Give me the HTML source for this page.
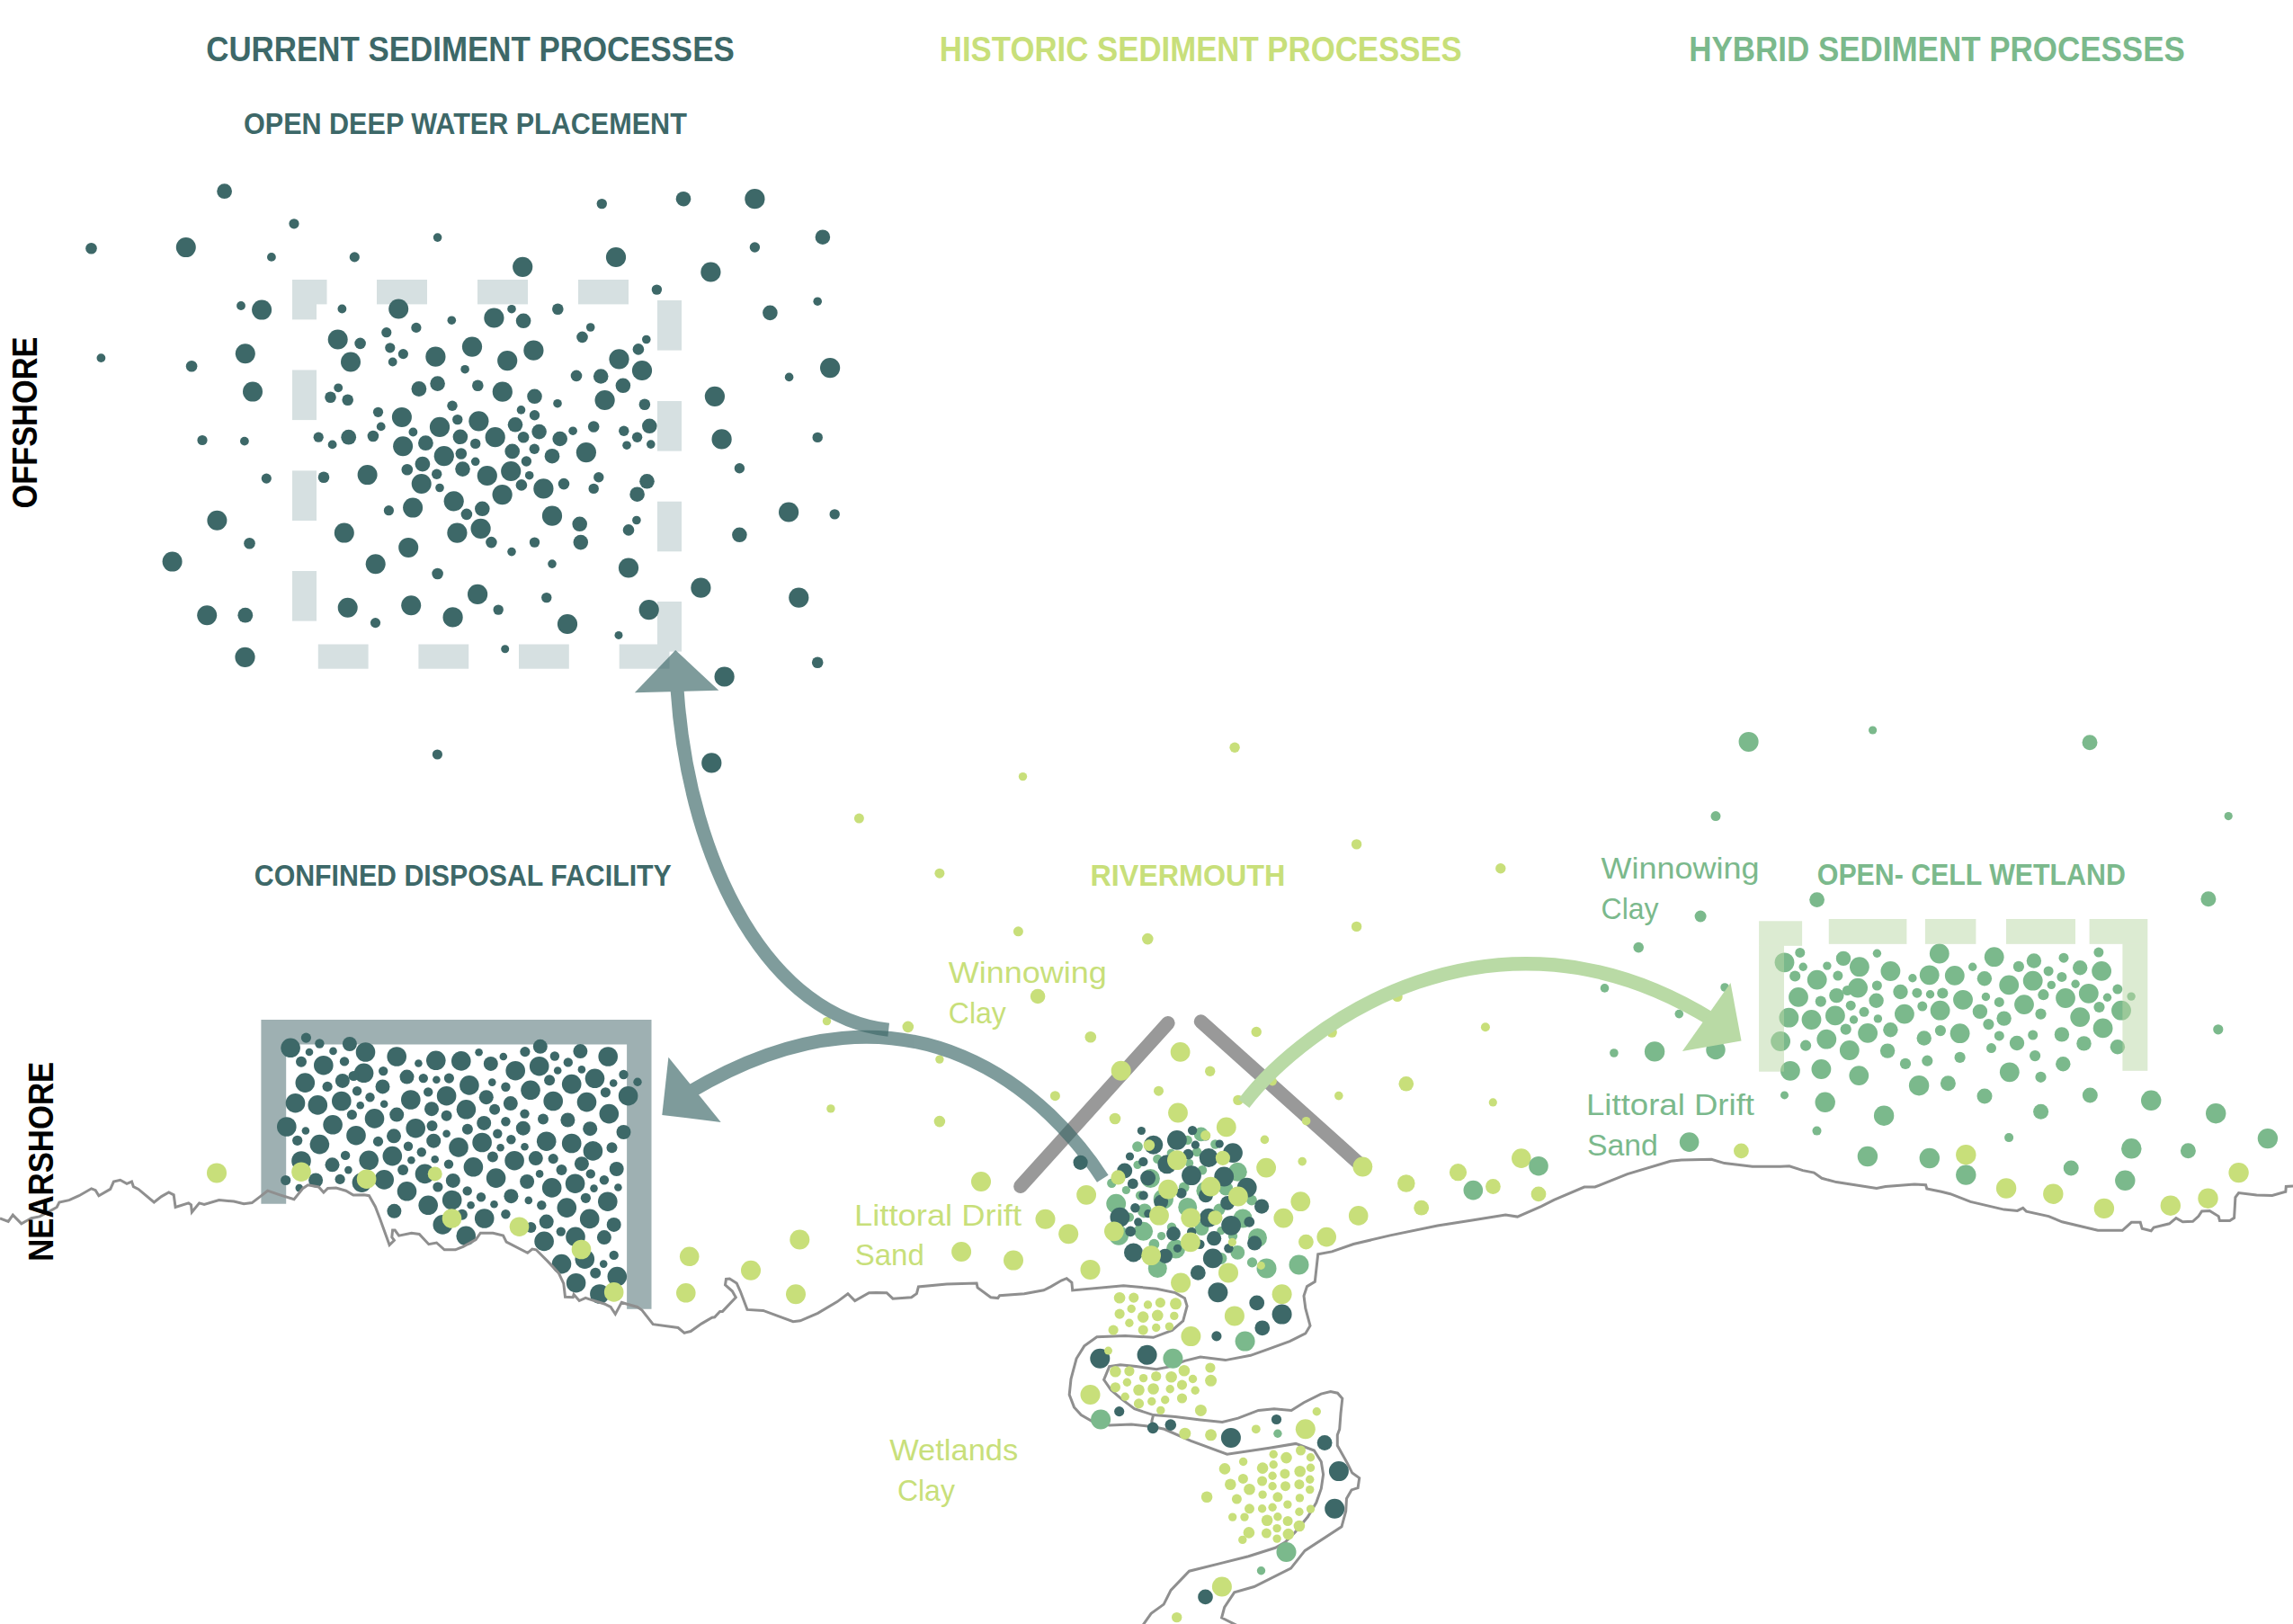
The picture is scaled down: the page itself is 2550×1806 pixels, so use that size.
<!DOCTYPE html><html><head><meta charset="utf-8"><style>html,body{margin:0;padding:0;background:#fff;overflow:hidden}svg{display:block}</style></head><body><svg width="2550" height="1806" viewBox="0 0 2550 1806"><rect width="2550" height="1806" fill="#fff"/><rect x="325" y="311" width="38.5" height="27.4" fill="#d6e0e1"/><rect x="419" y="311" width="56" height="27.4" fill="#d6e0e1"/><rect x="531" y="311" width="56" height="27.4" fill="#d6e0e1"/><rect x="643" y="311" width="56" height="27.4" fill="#d6e0e1"/><rect x="325" y="311" width="27" height="44.4" fill="#d6e0e1"/><rect x="325" y="411.5" width="27" height="55.6" fill="#d6e0e1"/><rect x="325" y="523.4" width="27" height="55.6" fill="#d6e0e1"/><rect x="325" y="635" width="27" height="55.6" fill="#d6e0e1"/><rect x="731" y="334" width="27" height="55.6" fill="#d6e0e1"/><rect x="731" y="446" width="27" height="55.6" fill="#d6e0e1"/><rect x="731" y="557.7" width="27" height="55.6" fill="#d6e0e1"/><rect x="731" y="669" width="27" height="55.6" fill="#d6e0e1"/><rect x="353.8" y="716.5" width="55.8" height="27.2" fill="#d6e0e1"/><rect x="465.4" y="716.5" width="55.8" height="27.2" fill="#d6e0e1"/><rect x="577" y="716.5" width="55.8" height="27.2" fill="#d6e0e1"/><rect x="688.7" y="716.5" width="55.8" height="27.2" fill="#d6e0e1"/><circle cx="249.6" cy="212.7" r="8.4" fill="#3d6868"/><circle cx="327.0" cy="248.8" r="5.6" fill="#3d6868"/><circle cx="101.5" cy="276.3" r="6.3" fill="#3d6868"/><circle cx="206.8" cy="275.1" r="11.0" fill="#3d6868"/><circle cx="301.9" cy="285.9" r="4.9" fill="#3d6868"/><circle cx="394.3" cy="285.9" r="5.6" fill="#3d6868"/><circle cx="268.0" cy="340.0" r="4.9" fill="#3d6868"/><circle cx="291.1" cy="344.6" r="11.0" fill="#3d6868"/><circle cx="380.4" cy="343.5" r="4.9" fill="#3d6868"/><circle cx="443.2" cy="343.5" r="11.0" fill="#3d6868"/><circle cx="375.7" cy="377.5" r="11.0" fill="#3d6868"/><circle cx="400.6" cy="381.9" r="6.3" fill="#3d6868"/><circle cx="429.8" cy="369.7" r="5.6" fill="#3d6868"/><circle cx="462.9" cy="364.4" r="5.6" fill="#3d6868"/><circle cx="433.8" cy="386.8" r="5.6" fill="#3d6868"/><circle cx="448.4" cy="393.6" r="5.6" fill="#3d6868"/><circle cx="436.7" cy="402.5" r="4.9" fill="#3d6868"/><circle cx="390.0" cy="402.5" r="11.0" fill="#3d6868"/><circle cx="272.8" cy="393.2" r="11.0" fill="#3d6868"/><circle cx="112.4" cy="398.1" r="4.9" fill="#3d6868"/><circle cx="213.1" cy="407.2" r="6.3" fill="#3d6868"/><circle cx="281.0" cy="435.6" r="11.0" fill="#3d6868"/><circle cx="376.2" cy="431.3" r="4.9" fill="#3d6868"/><circle cx="367.5" cy="441.7" r="6.3" fill="#3d6868"/><circle cx="386.7" cy="444.7" r="6.3" fill="#3d6868"/><circle cx="465.9" cy="432.5" r="8.4" fill="#3d6868"/><circle cx="669.3" cy="226.6" r="5.7" fill="#3d6868"/><circle cx="760.0" cy="221.2" r="8.3" fill="#3d6868"/><circle cx="839.4" cy="221.2" r="11.1" fill="#3d6868"/><circle cx="486.6" cy="264.1" r="4.8" fill="#3d6868"/><circle cx="914.9" cy="263.7" r="8.3" fill="#3d6868"/><circle cx="839.4" cy="275.0" r="5.7" fill="#3d6868"/><circle cx="581.2" cy="296.8" r="11.1" fill="#3d6868"/><circle cx="685.0" cy="286.0" r="11.1" fill="#3d6868"/><circle cx="790.4" cy="302.5" r="11.1" fill="#3d6868"/><circle cx="730.4" cy="322.1" r="5.7" fill="#3d6868"/><circle cx="909.2" cy="335.2" r="4.8" fill="#3d6868"/><circle cx="856.4" cy="347.9" r="8.3" fill="#3d6868"/><circle cx="569.0" cy="343.7" r="4.8" fill="#3d6868"/><circle cx="620.3" cy="343.7" r="6.3" fill="#3d6868"/><circle cx="549.4" cy="353.5" r="11.1" fill="#3d6868"/><circle cx="582.1" cy="356.8" r="8.3" fill="#3d6868"/><circle cx="502.3" cy="356.2" r="4.8" fill="#3d6868"/><circle cx="656.7" cy="364.0" r="4.8" fill="#3d6868"/><circle cx="647.5" cy="374.9" r="6.3" fill="#3d6868"/><circle cx="718.8" cy="377.5" r="4.8" fill="#3d6868"/><circle cx="709.9" cy="388.4" r="6.3" fill="#3d6868"/><circle cx="484.4" cy="396.7" r="11.1" fill="#3d6868"/><circle cx="525.0" cy="385.6" r="11.1" fill="#3d6868"/><circle cx="564.2" cy="401.1" r="11.1" fill="#3d6868"/><circle cx="593.4" cy="389.7" r="11.1" fill="#3d6868"/><circle cx="517.1" cy="410.7" r="4.8" fill="#3d6868"/><circle cx="688.5" cy="399.3" r="11.1" fill="#3d6868"/><circle cx="714.0" cy="412.0" r="11.1" fill="#3d6868"/><circle cx="641.0" cy="417.9" r="6.3" fill="#3d6868"/><circle cx="668.2" cy="418.5" r="8.3" fill="#3d6868"/><circle cx="692.9" cy="428.8" r="8.3" fill="#3d6868"/><circle cx="486.6" cy="426.6" r="8.3" fill="#3d6868"/><circle cx="531.3" cy="428.8" r="6.3" fill="#3d6868"/><circle cx="558.8" cy="435.7" r="11.1" fill="#3d6868"/><circle cx="594.5" cy="440.8" r="8.3" fill="#3d6868"/><circle cx="877.6" cy="419.4" r="4.8" fill="#3d6868"/><circle cx="923.1" cy="409.1" r="11.1" fill="#3d6868"/><circle cx="794.9" cy="440.8" r="11.1" fill="#3d6868"/><circle cx="420.5" cy="458.3" r="5.6" fill="#3d6868"/><circle cx="446.9" cy="463.9" r="11.0" fill="#3d6868"/><circle cx="423.7" cy="474.4" r="4.9" fill="#3d6868"/><circle cx="459.4" cy="480.5" r="4.9" fill="#3d6868"/><circle cx="225.0" cy="489.5" r="5.6" fill="#3d6868"/><circle cx="271.9" cy="490.6" r="4.9" fill="#3d6868"/><circle cx="354.2" cy="486.2" r="5.6" fill="#3d6868"/><circle cx="369.6" cy="494.4" r="4.9" fill="#3d6868"/><circle cx="387.7" cy="486.2" r="8.4" fill="#3d6868"/><circle cx="414.9" cy="485.0" r="6.3" fill="#3d6868"/><circle cx="448.1" cy="496.2" r="11.0" fill="#3d6868"/><circle cx="473.4" cy="492.7" r="8.4" fill="#3d6868"/><circle cx="469.9" cy="516.1" r="8.4" fill="#3d6868"/><circle cx="452.8" cy="522.3" r="6.3" fill="#3d6868"/><circle cx="296.3" cy="532.1" r="5.6" fill="#3d6868"/><circle cx="360.0" cy="530.7" r="6.3" fill="#3d6868"/><circle cx="408.6" cy="528.1" r="11.0" fill="#3d6868"/><circle cx="468.7" cy="538.0" r="11.0" fill="#3d6868"/><circle cx="432.4" cy="567.7" r="5.6" fill="#3d6868"/><circle cx="459.1" cy="564.6" r="11.0" fill="#3d6868"/><circle cx="241.4" cy="578.7" r="11.0" fill="#3d6868"/><circle cx="382.8" cy="592.6" r="11.0" fill="#3d6868"/><circle cx="277.5" cy="604.3" r="6.3" fill="#3d6868"/><circle cx="454.2" cy="608.9" r="11.0" fill="#3d6868"/><circle cx="191.6" cy="624.6" r="11.0" fill="#3d6868"/><circle cx="417.7" cy="627.2" r="11.0" fill="#3d6868"/><circle cx="230.2" cy="684.2" r="11.0" fill="#3d6868"/><circle cx="272.8" cy="684.2" r="8.4" fill="#3d6868"/><circle cx="386.7" cy="675.8" r="11.0" fill="#3d6868"/><circle cx="457.2" cy="673.2" r="11.0" fill="#3d6868"/><circle cx="417.5" cy="692.6" r="5.6" fill="#3d6868"/><circle cx="503.0" cy="451.3" r="5.7" fill="#3d6868"/><circle cx="620.0" cy="448.7" r="4.8" fill="#3d6868"/><circle cx="716.9" cy="449.8" r="6.3" fill="#3d6868"/><circle cx="508.8" cy="466.6" r="5.7" fill="#3d6868"/><circle cx="489.0" cy="474.9" r="11.1" fill="#3d6868"/><circle cx="532.4" cy="468.3" r="11.1" fill="#3d6868"/><circle cx="579.5" cy="455.9" r="4.8" fill="#3d6868"/><circle cx="594.5" cy="461.8" r="5.7" fill="#3d6868"/><circle cx="573.0" cy="472.3" r="8.3" fill="#3d6868"/><circle cx="511.9" cy="485.8" r="8.3" fill="#3d6868"/><circle cx="528.7" cy="493.4" r="5.7" fill="#3d6868"/><circle cx="550.7" cy="486.2" r="11.1" fill="#3d6868"/><circle cx="582.1" cy="486.2" r="6.3" fill="#3d6868"/><circle cx="599.6" cy="480.1" r="8.3" fill="#3d6868"/><circle cx="622.7" cy="488.0" r="8.3" fill="#3d6868"/><circle cx="637.1" cy="479.2" r="4.8" fill="#3d6868"/><circle cx="660.2" cy="474.5" r="6.3" fill="#3d6868"/><circle cx="693.8" cy="479.2" r="5.7" fill="#3d6868"/><circle cx="708.6" cy="486.2" r="5.7" fill="#3d6868"/><circle cx="722.3" cy="473.8" r="8.3" fill="#3d6868"/><circle cx="697.0" cy="495.2" r="4.8" fill="#3d6868"/><circle cx="723.8" cy="494.1" r="4.8" fill="#3d6868"/><circle cx="802.6" cy="488.4" r="11.1" fill="#3d6868"/><circle cx="909.2" cy="486.4" r="5.7" fill="#3d6868"/><circle cx="493.8" cy="507.2" r="11.1" fill="#3d6868"/><circle cx="512.8" cy="504.5" r="6.3" fill="#3d6868"/><circle cx="528.7" cy="513.3" r="4.8" fill="#3d6868"/><circle cx="569.7" cy="501.9" r="8.3" fill="#3d6868"/><circle cx="594.3" cy="499.3" r="5.7" fill="#3d6868"/><circle cx="614.0" cy="507.2" r="8.3" fill="#3d6868"/><circle cx="651.9" cy="503.2" r="11.1" fill="#3d6868"/><circle cx="585.4" cy="513.0" r="5.7" fill="#3d6868"/><circle cx="514.5" cy="521.6" r="8.3" fill="#3d6868"/><circle cx="485.7" cy="527.2" r="5.7" fill="#3d6868"/><circle cx="541.8" cy="529.0" r="11.1" fill="#3d6868"/><circle cx="568.2" cy="524.0" r="11.1" fill="#3d6868"/><circle cx="588.7" cy="528.7" r="4.8" fill="#3d6868"/><circle cx="579.9" cy="539.4" r="6.3" fill="#3d6868"/><circle cx="604.4" cy="543.4" r="11.1" fill="#3d6868"/><circle cx="627.0" cy="538.1" r="6.3" fill="#3d6868"/><circle cx="665.8" cy="530.7" r="5.7" fill="#3d6868"/><circle cx="660.2" cy="543.4" r="5.7" fill="#3d6868"/><circle cx="719.5" cy="535.3" r="8.3" fill="#3d6868"/><circle cx="708.6" cy="549.7" r="8.3" fill="#3d6868"/><circle cx="822.4" cy="520.7" r="5.7" fill="#3d6868"/><circle cx="489.0" cy="542.5" r="4.8" fill="#3d6868"/><circle cx="504.7" cy="557.3" r="11.1" fill="#3d6868"/><circle cx="558.6" cy="550.1" r="11.1" fill="#3d6868"/><circle cx="536.3" cy="565.8" r="8.3" fill="#3d6868"/><circle cx="518.9" cy="571.9" r="6.3" fill="#3d6868"/><circle cx="614.0" cy="573.7" r="11.1" fill="#3d6868"/><circle cx="644.7" cy="582.8" r="8.3" fill="#3d6868"/><circle cx="707.9" cy="578.5" r="4.8" fill="#3d6868"/><circle cx="699.0" cy="589.4" r="6.3" fill="#3d6868"/><circle cx="877.1" cy="569.5" r="11.1" fill="#3d6868"/><circle cx="928.2" cy="571.9" r="5.7" fill="#3d6868"/><circle cx="508.4" cy="592.6" r="11.1" fill="#3d6868"/><circle cx="534.6" cy="587.8" r="11.1" fill="#3d6868"/><circle cx="546.4" cy="603.1" r="6.3" fill="#3d6868"/><circle cx="594.5" cy="603.1" r="5.7" fill="#3d6868"/><circle cx="645.8" cy="603.1" r="8.3" fill="#3d6868"/><circle cx="822.4" cy="594.8" r="8.3" fill="#3d6868"/><circle cx="569.0" cy="613.6" r="4.8" fill="#3d6868"/><circle cx="614.0" cy="627.1" r="4.8" fill="#3d6868"/><circle cx="699.0" cy="631.5" r="11.1" fill="#3d6868"/><circle cx="486.6" cy="638.0" r="6.3" fill="#3d6868"/><circle cx="531.1" cy="660.9" r="11.1" fill="#3d6868"/><circle cx="607.8" cy="664.6" r="5.7" fill="#3d6868"/><circle cx="779.4" cy="653.7" r="11.1" fill="#3d6868"/><circle cx="888.3" cy="664.6" r="11.1" fill="#3d6868"/><circle cx="554.2" cy="678.1" r="5.7" fill="#3d6868"/><circle cx="503.6" cy="686.4" r="11.1" fill="#3d6868"/><circle cx="721.7" cy="678.1" r="11.1" fill="#3d6868"/><circle cx="631.0" cy="694.0" r="11.1" fill="#3d6868"/><circle cx="272.5" cy="730.8" r="11.1" fill="#3d6868"/><circle cx="688.0" cy="706.4" r="4.5" fill="#3d6868"/><circle cx="561.7" cy="721.8" r="4.5" fill="#3d6868"/><circle cx="805.6" cy="752.5" r="11.1" fill="#3d6868"/><circle cx="909.2" cy="736.8" r="6.3" fill="#3d6868"/><circle cx="486.4" cy="839.0" r="5.6" fill="#3d6868"/><circle cx="791.3" cy="848.4" r="11.1" fill="#3d6868"/><circle cx="672.6" cy="445.0" r="11.1" fill="#3d6868"/><path d="M290.4 1338.8 V1134 H724.5 V1455.8 H697.1 V1161.4 H318.2 V1338.8 Z" fill="#9eb0b2"/><circle cx="323.1" cy="1165.3" r="10.8" fill="#3d6868"/><circle cx="340.4" cy="1154.1" r="5.6" fill="#3d6868"/><circle cx="355.4" cy="1160.5" r="5.2" fill="#3d6868"/><circle cx="344.0" cy="1170.0" r="4.3" fill="#3d6868"/><circle cx="335.0" cy="1180.8" r="6.0" fill="#3d6868"/><circle cx="370.5" cy="1168.9" r="4.3" fill="#3d6868"/><circle cx="388.9" cy="1161.0" r="8.0" fill="#3d6868"/><circle cx="406.5" cy="1170.0" r="10.8" fill="#3d6868"/><circle cx="383.0" cy="1180.4" r="5.2" fill="#3d6868"/><circle cx="359.8" cy="1184.7" r="10.8" fill="#3d6868"/><circle cx="441.2" cy="1175.0" r="10.8" fill="#3d6868"/><circle cx="465.4" cy="1182.5" r="4.3" fill="#3d6868"/><circle cx="484.8" cy="1179.3" r="10.8" fill="#3d6868"/><circle cx="512.8" cy="1179.9" r="10.8" fill="#3d6868"/><circle cx="532.6" cy="1170.2" r="4.3" fill="#3d6868"/><circle cx="545.8" cy="1182.9" r="8.0" fill="#3d6868"/><circle cx="559.8" cy="1175.0" r="4.3" fill="#3d6868"/><circle cx="573.2" cy="1190.7" r="10.8" fill="#3d6868"/><circle cx="583.9" cy="1169.6" r="5.6" fill="#3d6868"/><circle cx="600.8" cy="1163.8" r="8.0" fill="#3d6868"/><circle cx="599.7" cy="1185.7" r="10.8" fill="#3d6868"/><circle cx="616.9" cy="1174.5" r="5.2" fill="#3d6868"/><circle cx="631.8" cy="1181.4" r="5.2" fill="#3d6868"/><circle cx="645.4" cy="1169.1" r="8.0" fill="#3d6868"/><circle cx="676.2" cy="1175.0" r="10.8" fill="#3d6868"/><circle cx="620.2" cy="1190.5" r="4.3" fill="#3d6868"/><circle cx="646.9" cy="1189.4" r="4.3" fill="#3d6868"/><circle cx="661.5" cy="1199.3" r="10.8" fill="#3d6868"/><circle cx="693.5" cy="1195.0" r="5.2" fill="#3d6868"/><circle cx="709.0" cy="1203.2" r="4.7" fill="#3d6868"/><circle cx="682.2" cy="1204.5" r="4.3" fill="#3d6868"/><circle cx="698.6" cy="1218.7" r="10.8" fill="#3d6868"/><circle cx="635.7" cy="1205.6" r="10.8" fill="#3d6868"/><circle cx="611.1" cy="1201.3" r="6.0" fill="#3d6868"/><circle cx="590.0" cy="1212.3" r="10.8" fill="#3d6868"/><circle cx="562.4" cy="1208.8" r="5.2" fill="#3d6868"/><circle cx="547.3" cy="1203.6" r="4.3" fill="#3d6868"/><circle cx="521.9" cy="1206.9" r="10.8" fill="#3d6868"/><circle cx="499.4" cy="1199.1" r="5.6" fill="#3d6868"/><circle cx="485.4" cy="1200.8" r="4.3" fill="#3d6868"/><circle cx="470.8" cy="1199.1" r="5.2" fill="#3d6868"/><circle cx="452.5" cy="1197.6" r="8.0" fill="#3d6868"/><circle cx="426.2" cy="1191.1" r="5.2" fill="#3d6868"/><circle cx="404.6" cy="1193.3" r="10.8" fill="#3d6868"/><circle cx="393.2" cy="1196.5" r="5.6" fill="#3d6868"/><circle cx="380.9" cy="1201.9" r="8.0" fill="#3d6868"/><circle cx="364.1" cy="1208.4" r="5.6" fill="#3d6868"/><circle cx="339.3" cy="1204.1" r="10.8" fill="#3d6868"/><circle cx="425.5" cy="1208.4" r="8.0" fill="#3d6868"/><circle cx="397.1" cy="1213.3" r="5.2" fill="#3d6868"/><circle cx="411.5" cy="1220.2" r="5.2" fill="#3d6868"/><circle cx="379.8" cy="1224.5" r="10.8" fill="#3d6868"/><circle cx="353.3" cy="1228.9" r="10.8" fill="#3d6868"/><circle cx="328.5" cy="1226.7" r="10.8" fill="#3d6868"/><circle cx="400.7" cy="1229.3" r="4.3" fill="#3d6868"/><circle cx="427.2" cy="1227.8" r="4.3" fill="#3d6868"/><circle cx="456.8" cy="1223.0" r="10.8" fill="#3d6868"/><circle cx="476.2" cy="1214.4" r="5.2" fill="#3d6868"/><circle cx="496.6" cy="1218.7" r="10.8" fill="#3d6868"/><circle cx="518.4" cy="1233.8" r="10.8" fill="#3d6868"/><circle cx="480.0" cy="1233.2" r="8.0" fill="#3d6868"/><circle cx="540.8" cy="1220.2" r="8.0" fill="#3d6868"/><circle cx="567.8" cy="1227.1" r="8.0" fill="#3d6868"/><circle cx="550.1" cy="1233.8" r="6.0" fill="#3d6868"/><circle cx="615.2" cy="1224.5" r="10.8" fill="#3d6868"/><circle cx="652.5" cy="1225.6" r="10.8" fill="#3d6868"/><circle cx="673.4" cy="1214.8" r="5.6" fill="#3d6868"/><circle cx="677.3" cy="1238.6" r="10.8" fill="#3d6868"/><circle cx="391.4" cy="1239.6" r="5.6" fill="#3d6868"/><circle cx="416.5" cy="1243.9" r="10.8" fill="#3d6868"/><circle cx="441.2" cy="1239.6" r="8.0" fill="#3d6868"/><circle cx="496.6" cy="1240.7" r="6.0" fill="#3d6868"/><circle cx="583.5" cy="1238.6" r="5.2" fill="#3d6868"/><circle cx="604.0" cy="1244.6" r="6.0" fill="#3d6868"/><circle cx="631.4" cy="1245.5" r="8.0" fill="#3d6868"/><circle cx="693.5" cy="1259.0" r="8.0" fill="#3d6868"/><circle cx="656.2" cy="1255.2" r="8.0" fill="#3d6868"/><circle cx="581.8" cy="1254.7" r="8.0" fill="#3d6868"/><circle cx="562.4" cy="1247.2" r="5.2" fill="#3d6868"/><circle cx="538.2" cy="1248.9" r="8.0" fill="#3d6868"/><circle cx="519.9" cy="1255.8" r="6.0" fill="#3d6868"/><circle cx="480.5" cy="1251.9" r="6.0" fill="#3d6868"/><circle cx="462.2" cy="1254.7" r="10.8" fill="#3d6868"/><circle cx="396.0" cy="1262.7" r="10.8" fill="#3d6868"/><circle cx="370.1" cy="1250.8" r="10.8" fill="#3d6868"/><circle cx="339.9" cy="1257.5" r="4.3" fill="#3d6868"/><circle cx="318.8" cy="1253.0" r="10.8" fill="#3d6868"/><circle cx="330.7" cy="1268.3" r="5.6" fill="#3d6868"/><circle cx="355.4" cy="1272.6" r="10.8" fill="#3d6868"/><circle cx="420.5" cy="1269.4" r="5.6" fill="#3d6868"/><circle cx="438.0" cy="1263.3" r="8.0" fill="#3d6868"/><circle cx="454.0" cy="1274.8" r="5.2" fill="#3d6868"/><circle cx="482.2" cy="1268.7" r="8.0" fill="#3d6868"/><circle cx="496.6" cy="1260.8" r="4.3" fill="#3d6868"/><circle cx="510.0" cy="1275.9" r="10.8" fill="#3d6868"/><circle cx="536.1" cy="1270.5" r="10.8" fill="#3d6868"/><circle cx="553.3" cy="1260.8" r="5.2" fill="#3d6868"/><circle cx="568.4" cy="1267.2" r="5.2" fill="#3d6868"/><circle cx="556.6" cy="1276.3" r="4.3" fill="#3d6868"/><circle cx="583.5" cy="1275.2" r="4.3" fill="#3d6868"/><circle cx="607.7" cy="1269.2" r="10.8" fill="#3d6868"/><circle cx="635.7" cy="1271.5" r="10.8" fill="#3d6868"/><circle cx="659.4" cy="1279.9" r="10.8" fill="#3d6868"/><circle cx="680.5" cy="1276.3" r="6.0" fill="#3d6868"/><circle cx="468.8" cy="1281.2" r="5.2" fill="#3d6868"/><circle cx="436.3" cy="1285.6" r="10.8" fill="#3d6868"/><circle cx="410.2" cy="1290.3" r="10.8" fill="#3d6868"/><circle cx="384.1" cy="1284.9" r="5.2" fill="#3d6868"/><circle cx="335.0" cy="1291.0" r="10.8" fill="#3d6868"/><circle cx="369.5" cy="1295.3" r="8.0" fill="#3d6868"/><circle cx="387.4" cy="1301.1" r="4.3" fill="#3d6868"/><circle cx="457.4" cy="1290.3" r="4.3" fill="#3d6868"/><circle cx="483.7" cy="1289.2" r="4.3" fill="#3d6868"/><circle cx="499.0" cy="1294.6" r="5.2" fill="#3d6868"/><circle cx="526.4" cy="1297.8" r="10.8" fill="#3d6868"/><circle cx="547.9" cy="1286.6" r="6.0" fill="#3d6868"/><circle cx="572.1" cy="1290.7" r="10.8" fill="#3d6868"/><circle cx="595.8" cy="1288.1" r="8.0" fill="#3d6868"/><circle cx="615.2" cy="1288.6" r="5.6" fill="#3d6868"/><circle cx="646.9" cy="1294.2" r="8.0" fill="#3d6868"/><circle cx="685.7" cy="1300.0" r="8.0" fill="#3d6868"/><circle cx="624.5" cy="1301.1" r="6.0" fill="#3d6868"/><circle cx="600.1" cy="1305.4" r="4.3" fill="#3d6868"/><circle cx="656.8" cy="1305.4" r="5.2" fill="#3d6868"/><circle cx="671.9" cy="1312.3" r="5.2" fill="#3d6868"/><circle cx="639.6" cy="1316.2" r="10.8" fill="#3d6868"/><circle cx="613.7" cy="1320.9" r="10.8" fill="#3d6868"/><circle cx="586.1" cy="1314.0" r="8.0" fill="#3d6868"/><circle cx="551.6" cy="1310.1" r="10.8" fill="#3d6868"/><circle cx="503.8" cy="1312.9" r="8.0" fill="#3d6868"/><circle cx="472.5" cy="1305.4" r="10.8" fill="#3d6868"/><circle cx="448.1" cy="1301.1" r="6.0" fill="#3d6868"/><circle cx="427.2" cy="1311.9" r="10.8" fill="#3d6868"/><circle cx="402.4" cy="1315.1" r="10.8" fill="#3d6868"/><circle cx="378.1" cy="1311.4" r="5.6" fill="#3d6868"/><circle cx="351.1" cy="1312.5" r="8.0" fill="#3d6868"/><circle cx="317.7" cy="1312.5" r="5.6" fill="#3d6868"/><circle cx="332.8" cy="1321.1" r="4.3" fill="#3d6868"/><circle cx="486.9" cy="1320.0" r="5.6" fill="#3d6868"/><circle cx="452.5" cy="1324.8" r="10.8" fill="#3d6868"/><circle cx="519.7" cy="1324.4" r="5.2" fill="#3d6868"/><circle cx="535.0" cy="1331.3" r="5.2" fill="#3d6868"/><circle cx="568.4" cy="1330.2" r="8.0" fill="#3d6868"/><circle cx="587.8" cy="1334.9" r="4.3" fill="#3d6868"/><circle cx="602.3" cy="1340.3" r="5.2" fill="#3d6868"/><circle cx="630.3" cy="1343.1" r="10.8" fill="#3d6868"/><circle cx="651.4" cy="1332.3" r="5.6" fill="#3d6868"/><circle cx="660.5" cy="1321.6" r="4.3" fill="#3d6868"/><circle cx="687.4" cy="1320.5" r="4.3" fill="#3d6868"/><circle cx="675.8" cy="1336.2" r="10.8" fill="#3d6868"/><circle cx="502.7" cy="1334.5" r="10.8" fill="#3d6868"/><circle cx="476.2" cy="1340.3" r="10.8" fill="#3d6868"/><circle cx="438.4" cy="1346.8" r="8.0" fill="#3d6868"/><circle cx="523.6" cy="1340.3" r="4.3" fill="#3d6868"/><circle cx="549.5" cy="1339.2" r="4.3" fill="#3d6868"/><circle cx="562.4" cy="1350.2" r="5.2" fill="#3d6868"/><circle cx="538.7" cy="1355.0" r="10.8" fill="#3d6868"/><circle cx="513.9" cy="1350.7" r="6.0" fill="#3d6868"/><circle cx="492.3" cy="1361.9" r="10.8" fill="#3d6868"/><circle cx="518.2" cy="1374.4" r="10.8" fill="#3d6868"/><circle cx="590.4" cy="1365.1" r="6.0" fill="#3d6868"/><circle cx="607.7" cy="1358.6" r="8.0" fill="#3d6868"/><circle cx="623.8" cy="1369.6" r="5.2" fill="#3d6868"/><circle cx="655.7" cy="1355.4" r="10.8" fill="#3d6868"/><circle cx="682.7" cy="1361.9" r="8.0" fill="#3d6868"/><circle cx="671.9" cy="1376.1" r="8.0" fill="#3d6868"/><circle cx="640.0" cy="1375.4" r="10.8" fill="#3d6868"/><circle cx="605.1" cy="1380.4" r="10.8" fill="#3d6868"/><circle cx="650.3" cy="1400.2" r="10.8" fill="#3d6868"/><circle cx="624.5" cy="1405.6" r="10.8" fill="#3d6868"/><circle cx="682.7" cy="1395.9" r="5.2" fill="#3d6868"/><circle cx="671.2" cy="1405.6" r="4.3" fill="#3d6868"/><circle cx="662.2" cy="1415.8" r="6.0" fill="#3d6868"/><circle cx="686.3" cy="1419.6" r="10.8" fill="#3d6868"/><circle cx="640.6" cy="1426.7" r="10.8" fill="#3d6868"/><circle cx="666.9" cy="1439.0" r="10.8" fill="#3d6868"/><circle cx="335.0" cy="1303.2" r="10.8" fill="#c8df7a"/><circle cx="407.6" cy="1311.2" r="10.8" fill="#c8df7a"/><circle cx="483.7" cy="1305.4" r="8.0" fill="#c8df7a"/><circle cx="502.5" cy="1355.0" r="10.8" fill="#c8df7a"/><circle cx="577.5" cy="1364.2" r="10.8" fill="#c8df7a"/><circle cx="646.5" cy="1389.5" r="10.8" fill="#c8df7a"/><circle cx="682.7" cy="1436.9" r="10.8" fill="#c8df7a"/><polyline points="0.0,1354.8 9.2,1358.4 14.3,1351.1 23.8,1360.8 30.2,1357.2 34.8,1354.8 44.0,1352.9 55.0,1347.1 63.2,1342.5 65.9,1337.0 76.9,1334.6 87.9,1329.7 101.7,1321.8 106.2,1323.6 109.9,1329.7 122.7,1322.4 126.4,1314.1 133.7,1312.3 141.0,1316.3 146.5,1314.1 148.4,1319.6 153.9,1322.4 171.3,1337.0 179.5,1330.6 187.7,1326.0 193.2,1328.8 195.1,1342.5 209.7,1337.9 212.5,1339.8 213.4,1348.0 221.6,1337.9 227.1,1339.4 243.6,1334.6 260.1,1336.1 271.1,1338.8 280.2,1337.6 289.4,1330.6 297.6,1324.2 311.4,1328.8 327.0,1333.7 337.0,1321.4 342.5,1317.8 354.4,1320.0 359.9,1326.0 364.5,1321.4 373.7,1321.1 384.7,1324.2 392.9,1329.1 404.8,1328.8 410.5,1329.7 417.4,1341.9 422.7,1355.8 433.1,1384.6 438.4,1379.4 435.8,1375.9 436.6,1368.0 439.2,1368.0 443.6,1374.1 457.6,1371.2 466.3,1372.4 476.8,1383.7 485.5,1382.0 494.2,1389.8 506.4,1389.8 515.1,1386.3 529.1,1378.5 534.3,1371.2 548.3,1371.2 559.6,1374.1 563.1,1381.1 586.7,1393.3 591.9,1389.0 596.2,1389.8 609.3,1402.9 621.5,1416.0 626.8,1427.3 628.5,1442.2 637.2,1442.7 638.1,1439.6 644.2,1446.5 651.2,1443.4 656.4,1445.1 672.1,1450.0 679.1,1453.5 684.3,1461.4 691.3,1448.3 696.6,1450.0 708.8,1453.5 714.0,1457.0 726.2,1472.7 754.1,1476.5 761.1,1482.3 768.1,1480.5 780.0,1472.1 791.8,1465.2 794.7,1464.8 800.6,1458.4 803.5,1458.4 818.3,1442.7 814.3,1435.8 806.5,1428.9 807.5,1422.4 811.4,1422.0 819.2,1427.0 823.2,1435.8 831.0,1456.4 848.7,1457.4 882.0,1469.7 889.9,1468.8 909.5,1460.3 931.1,1447.6 942.9,1438.7 950.7,1446.6 966.4,1437.7 974.3,1437.4 986.1,1437.7 992.9,1444.2 1013.5,1442.7 1019.4,1438.7 1021.4,1430.9 1052.8,1427.9 1086.1,1427.0 1087.1,1431.9 1101.8,1442.7 1109.7,1443.6 1111.7,1440.7 1139.1,1438.7 1160.7,1434.8 1168.6,1430.9 1180.3,1424.0 1186.2,1421.7 1191.9,1426.2 1192.7,1434.9 1249.4,1429.7 1286.1,1433.2 1307.0,1437.6 1317.5,1443.7 1320.1,1452.4 1315.7,1469.0 1303.5,1479.4 1282.6,1487.3 1251.2,1485.5 1219.8,1486.8 1205.8,1496.9 1197.1,1510.8 1191.0,1533.5 1189.2,1551.0 1194.5,1564.9 1202.3,1573.6 1214.5,1580.6 1233.7,1585.0 1258.2,1584.1 1282.6,1586.7 1294.8,1589.3 1324.4,1602.4 1364.6,1617.2 1411.7,1610.3 1441.0,1605.4 1461.4,1613.0 1469.3,1625.5 1471.6,1639.7 1469.3,1655.4 1463.8,1671.1 1454.4,1686.8 1440.2,1704.0 1429.2,1715.0 1418.2,1721.3 1388.4,1730.7 1357.0,1738.6 1322.5,1747.2 1302.1,1768.4 1294.2,1784.1 1280.1,1794.3 1270.7,1807.7" fill="none" stroke="#8f8f8f" stroke-width="3" stroke-linejoin="miter"/><polyline points="2550.0,1319.0 2542.3,1319.5 2541.8,1325.3 2526.9,1329.5 2509.5,1329.0 2489.6,1326.5 2485.9,1331.5 2484.6,1354.3 2479.7,1357.6 2468.5,1357.6 2467.2,1352.6 2457.3,1346.4 2448.6,1346.9 2444.9,1352.6 2438.6,1358.3 2427.4,1358.8 2420.0,1354.6 2412.5,1360.8 2395.1,1365.0 2392.2,1368.8 2382.2,1366.3 2380.2,1359.3 2370.3,1359.3 2360.3,1368.3 2333.0,1368.3 2293.2,1358.8 2278.3,1352.6 2253.4,1347.1 2249.7,1343.4 2243.5,1346.4 2228.6,1345.1 2191.3,1336.4 2168.9,1327.7 2159.0,1325.3 2142.8,1322.0 2141.6,1317.8 2129.1,1317.0 2096.8,1319.5 2086.9,1321.5 2042.1,1314.6 2026.0,1310.3 2017.3,1304.1 2004.9,1301.6 1989.9,1296.7 1980.0,1297.2 1948.9,1297.2 1917.7,1293.6 1903.3,1289.3 1869.8,1290.0 1857.8,1291.2 1809.8,1305.6 1773.8,1320.0 1761.8,1320.0 1728.2,1334.4 1713.9,1341.6 1687.5,1353.1 1674.3,1351.1 1637.1,1357.1 1598.7,1363.1 1545.9,1373.9 1505.2,1383.5 1481.2,1391.9 1465.7,1394.8 1462.3,1425.4 1453.5,1430.6 1450.0,1441.1 1451.8,1455.0 1457.0,1474.2 1451.8,1482.9 1434.3,1491.6 1408.2,1501.2 1390.7,1507.3 1362.8,1512.6 1334.9,1509.1 1317.5,1513.4 1301.8,1519.6 1286.1,1522.7 1263.4,1519.6 1245.9,1517.8 1233.7,1519.6 1227.6,1534.4 1235.5,1545.7 1247.7,1556.2 1261.6,1566.7 1282.6,1573.6 1307.0,1575.4 1334.9,1578.9 1359.3,1581.5 1376.8,1577.1 1399.5,1568.4 1416.9,1566.7 1436.1,1568.4 1450.0,1559.7 1469.2,1550.1 1479.7,1547.5 1487.5,1549.2 1492.8,1555.3 1491.0,1571.9 1489.7,1589.4 1487.3,1595.7 1487.3,1607.5 1498.3,1627.1 1503.8,1638.1 1511.7,1643.6 1510.1,1654.6 1503.0,1656.9 1497.5,1666.4 1496.7,1680.5 1492.0,1697.8 1451.2,1724.4 1435.5,1744.1 1394.7,1764.5 1372.7,1770.8 1361.7,1787.3 1358.6,1799.0 1375.9,1807.7" fill="none" stroke="#8f8f8f" stroke-width="3"/><polyline points="1282.6,1573.6 1280.8,1580.6 1282.6,1586.7" fill="none" stroke="#8f8f8f" stroke-width="3"/><line x1="1134.9" y1="1319.3" x2="1298.9" y2="1137.7" stroke="#999" stroke-width="15.5" stroke-linecap="round"/><line x1="1335.5" y1="1136.1" x2="1514.3" y2="1296.4" stroke="#999" stroke-width="15.5" stroke-linecap="round"/><circle cx="1212.5" cy="1411.9" r="11.0" fill="#c8df7a"/><circle cx="1332.3" cy="1415.4" r="8.4" fill="#3d6868"/><circle cx="1366.0" cy="1415.4" r="11.0" fill="#c8df7a"/><circle cx="1392.5" cy="1403.9" r="5.6" fill="#7bb98c"/><circle cx="1408.5" cy="1410.5" r="11.0" fill="#7bb98c"/><circle cx="1402.4" cy="1407.4" r="4.5" fill="#c8df7a"/><circle cx="1444.5" cy="1406.5" r="11.0" fill="#7bb98c"/><circle cx="1313.1" cy="1426.6" r="11.0" fill="#c8df7a"/><circle cx="1354.4" cy="1437.2" r="11.0" fill="#3d6868"/><circle cx="1425.6" cy="1439.3" r="11.0" fill="#c8df7a"/><circle cx="1397.7" cy="1448.9" r="8.4" fill="#3d6868"/><circle cx="1425.6" cy="1461.6" r="11.0" fill="#3d6868"/><circle cx="1372.9" cy="1463.4" r="11.0" fill="#c8df7a"/><circle cx="1403.8" cy="1476.8" r="8.4" fill="#3d6868"/><circle cx="1324.4" cy="1486.1" r="11.0" fill="#c8df7a"/><circle cx="1352.9" cy="1485.9" r="5.6" fill="#3d6868"/><circle cx="1384.6" cy="1491.6" r="11.0" fill="#7bb98c"/><circle cx="1223.3" cy="1510.8" r="11.0" fill="#3d6868"/><circle cx="1232.5" cy="1502.1" r="4.5" fill="#c8df7a"/><circle cx="1275.6" cy="1506.8" r="11.0" fill="#3d6868"/><circle cx="1304.4" cy="1510.8" r="11.0" fill="#7bb98c"/><circle cx="1212.5" cy="1551.0" r="11.0" fill="#c8df7a"/><circle cx="1224.1" cy="1578.5" r="11.0" fill="#7bb98c"/><circle cx="1244.7" cy="1569.6" r="5.6" fill="#3d6868"/><circle cx="1345.9" cy="1521.0" r="5.6" fill="#c8df7a"/><circle cx="1346.6" cy="1535.3" r="6.5" fill="#c8df7a"/><circle cx="1335.4" cy="1568.4" r="6.5" fill="#c8df7a"/><circle cx="1282.1" cy="1587.9" r="6.3" fill="#3d6868"/><circle cx="1301.8" cy="1584.6" r="6.3" fill="#3d6868"/><circle cx="1317.8" cy="1594.2" r="6.5" fill="#c8df7a"/><circle cx="1346.6" cy="1595.8" r="6.5" fill="#c8df7a"/><circle cx="1368.9" cy="1598.9" r="11.0" fill="#3d6868"/><circle cx="1396.8" cy="1589.3" r="4.9" fill="#c8df7a"/><circle cx="1419.5" cy="1578.5" r="5.6" fill="#3d6868"/><circle cx="1420.9" cy="1594.2" r="4.7" fill="#7bb98c"/><circle cx="1451.8" cy="1589.3" r="11.0" fill="#c8df7a"/><circle cx="1464.3" cy="1569.8" r="4.7" fill="#c8df7a"/><circle cx="1473.1" cy="1604.5" r="8.4" fill="#3d6868"/><circle cx="1245.1" cy="1443.3" r="6.3" fill="#c8df7a"/><circle cx="1260.8" cy="1443.1" r="5.6" fill="#c8df7a"/><circle cx="1276.5" cy="1451.0" r="4.7" fill="#c8df7a"/><circle cx="1290.4" cy="1448.6" r="5.6" fill="#c8df7a"/><circle cx="1307.5" cy="1449.8" r="6.5" fill="#c8df7a"/><circle cx="1258.2" cy="1455.5" r="4.7" fill="#c8df7a"/><circle cx="1245.1" cy="1461.1" r="5.6" fill="#c8df7a"/><circle cx="1271.2" cy="1464.6" r="6.3" fill="#c8df7a"/><circle cx="1287.3" cy="1462.9" r="6.3" fill="#c8df7a"/><circle cx="1305.8" cy="1463.4" r="4.7" fill="#c8df7a"/><circle cx="1255.9" cy="1471.2" r="4.7" fill="#c8df7a"/><circle cx="1238.1" cy="1479.1" r="5.6" fill="#c8df7a"/><circle cx="1271.2" cy="1479.1" r="5.6" fill="#c8df7a"/><circle cx="1285.7" cy="1476.5" r="4.7" fill="#c8df7a"/><circle cx="1300.4" cy="1475.1" r="4.7" fill="#c8df7a"/><circle cx="1240.4" cy="1525.3" r="6.3" fill="#c8df7a"/><circle cx="1255.9" cy="1524.8" r="5.6" fill="#c8df7a"/><circle cx="1271.6" cy="1532.6" r="4.7" fill="#c8df7a"/><circle cx="1285.7" cy="1530.5" r="5.6" fill="#c8df7a"/><circle cx="1302.6" cy="1531.2" r="6.3" fill="#c8df7a"/><circle cx="1316.9" cy="1524.3" r="6.3" fill="#c8df7a"/><circle cx="1326.5" cy="1533.5" r="4.7" fill="#c8df7a"/><circle cx="1253.4" cy="1537.3" r="4.7" fill="#c8df7a"/><circle cx="1240.4" cy="1542.8" r="5.6" fill="#c8df7a"/><circle cx="1266.5" cy="1545.7" r="6.3" fill="#c8df7a"/><circle cx="1282.6" cy="1544.5" r="6.3" fill="#c8df7a"/><circle cx="1301.2" cy="1544.8" r="4.7" fill="#c8df7a"/><circle cx="1314.5" cy="1540.1" r="5.6" fill="#c8df7a"/><circle cx="1329.2" cy="1546.2" r="4.7" fill="#c8df7a"/><circle cx="1251.2" cy="1553.2" r="4.7" fill="#c8df7a"/><circle cx="1266.5" cy="1560.9" r="5.6" fill="#c8df7a"/><circle cx="1280.8" cy="1558.5" r="4.7" fill="#c8df7a"/><circle cx="1295.7" cy="1556.7" r="4.7" fill="#c8df7a"/><circle cx="1314.5" cy="1555.0" r="5.6" fill="#c8df7a"/><circle cx="1290.8" cy="1568.4" r="4.7" fill="#c8df7a"/><circle cx="1488.9" cy="1636.1" r="11.0" fill="#3d6868"/><circle cx="1484.2" cy="1677.8" r="11.0" fill="#3d6868"/><circle cx="1430.5" cy="1726.0" r="11.0" fill="#7bb98c"/><circle cx="1402.5" cy="1746.7" r="4.7" fill="#7bb98c"/><circle cx="1358.9" cy="1764.5" r="11.0" fill="#c8df7a"/><circle cx="1340.5" cy="1775.9" r="8.3" fill="#3d6868"/><circle cx="1308.7" cy="1798.6" r="5.7" fill="#c8df7a"/><circle cx="1342.1" cy="1664.8" r="6.3" fill="#c8df7a"/><circle cx="1362.0" cy="1633.4" r="6.3" fill="#c8df7a"/><circle cx="1382.6" cy="1625.5" r="4.7" fill="#c8df7a"/><circle cx="1416.2" cy="1617.2" r="4.7" fill="#c8df7a"/><circle cx="1430.5" cy="1621.1" r="6.3" fill="#c8df7a"/><circle cx="1446.5" cy="1613.0" r="5.5" fill="#c8df7a"/><circle cx="1457.5" cy="1620.8" r="4.7" fill="#c8df7a"/><circle cx="1404.1" cy="1632.6" r="6.3" fill="#c8df7a"/><circle cx="1416.2" cy="1628.7" r="4.7" fill="#c8df7a"/><circle cx="1445.7" cy="1636.2" r="6.3" fill="#c8df7a"/><circle cx="1457.5" cy="1632.3" r="4.7" fill="#c8df7a"/><circle cx="1382.4" cy="1644.4" r="5.5" fill="#c8df7a"/><circle cx="1368.3" cy="1650.7" r="6.3" fill="#c8df7a"/><circle cx="1403.6" cy="1647.0" r="5.5" fill="#c8df7a"/><circle cx="1415.1" cy="1641.2" r="4.7" fill="#c8df7a"/><circle cx="1428.9" cy="1638.9" r="5.5" fill="#c8df7a"/><circle cx="1456.7" cy="1645.2" r="4.7" fill="#c8df7a"/><circle cx="1389.5" cy="1656.2" r="6.3" fill="#c8df7a"/><circle cx="1415.1" cy="1652.7" r="4.7" fill="#c8df7a"/><circle cx="1429.5" cy="1652.7" r="5.5" fill="#c8df7a"/><circle cx="1444.9" cy="1650.7" r="5.5" fill="#c8df7a"/><circle cx="1456.7" cy="1656.6" r="4.7" fill="#c8df7a"/><circle cx="1375.4" cy="1667.1" r="5.5" fill="#c8df7a"/><circle cx="1404.1" cy="1662.1" r="4.7" fill="#c8df7a"/><circle cx="1420.9" cy="1664.8" r="5.5" fill="#c8df7a"/><circle cx="1445.4" cy="1665.9" r="4.7" fill="#c8df7a"/><circle cx="1389.5" cy="1677.8" r="5.5" fill="#c8df7a"/><circle cx="1403.6" cy="1677.8" r="4.7" fill="#c8df7a"/><circle cx="1415.1" cy="1676.2" r="4.7" fill="#c8df7a"/><circle cx="1431.9" cy="1673.1" r="4.7" fill="#c8df7a"/><circle cx="1444.9" cy="1681.3" r="4.7" fill="#c8df7a"/><circle cx="1457.5" cy="1678.1" r="4.7" fill="#c8df7a"/><circle cx="1370.7" cy="1687.1" r="4.7" fill="#c8df7a"/><circle cx="1384.0" cy="1687.1" r="4.7" fill="#c8df7a"/><circle cx="1409.1" cy="1690.7" r="6.3" fill="#c8df7a"/><circle cx="1420.9" cy="1686.8" r="4.7" fill="#c8df7a"/><circle cx="1432.1" cy="1691.5" r="5.5" fill="#c8df7a"/><circle cx="1444.9" cy="1697.0" r="6.3" fill="#c8df7a"/><circle cx="1388.9" cy="1704.4" r="6.3" fill="#c8df7a"/><circle cx="1408.4" cy="1705.1" r="5.5" fill="#c8df7a"/><circle cx="1420.1" cy="1699.6" r="4.7" fill="#c8df7a"/><circle cx="1432.8" cy="1706.1" r="6.3" fill="#c8df7a"/><circle cx="1381.8" cy="1712.4" r="4.7" fill="#c8df7a"/><circle cx="1420.1" cy="1711.1" r="4.7" fill="#c8df7a"/><circle cx="1241.2" cy="1338.6" r="10.9" fill="#7bb98c"/><circle cx="1265.0" cy="1275.1" r="5.9" fill="#7bb98c"/><circle cx="1265.0" cy="1295.4" r="4.6" fill="#7bb98c"/><circle cx="1236.3" cy="1315.7" r="5.2" fill="#7bb98c"/><circle cx="1252.4" cy="1323.5" r="4.6" fill="#7bb98c"/><circle cx="1268.1" cy="1329.4" r="5.2" fill="#7bb98c"/><circle cx="1271.6" cy="1369.3" r="10.5" fill="#7bb98c"/><circle cx="1272.9" cy="1346.4" r="7.9" fill="#7bb98c"/><circle cx="1279.4" cy="1310.5" r="10.5" fill="#7bb98c"/><circle cx="1255.9" cy="1353.6" r="5.2" fill="#7bb98c"/><circle cx="1244.1" cy="1373.9" r="10.9" fill="#7bb98c"/><circle cx="1287.3" cy="1288.9" r="5.2" fill="#7bb98c"/><circle cx="1302.3" cy="1282.3" r="4.6" fill="#7bb98c"/><circle cx="1320.7" cy="1267.9" r="5.2" fill="#7bb98c"/><circle cx="1331.1" cy="1281.0" r="5.2" fill="#7bb98c"/><circle cx="1322.6" cy="1293.5" r="4.6" fill="#7bb98c"/><circle cx="1337.0" cy="1301.3" r="5.2" fill="#7bb98c"/><circle cx="1335.7" cy="1261.4" r="7.9" fill="#7bb98c"/><circle cx="1351.4" cy="1272.5" r="5.2" fill="#7bb98c"/><circle cx="1316.7" cy="1320.3" r="5.9" fill="#7bb98c"/><circle cx="1320.7" cy="1342.5" r="10.5" fill="#7bb98c"/><circle cx="1293.8" cy="1333.4" r="11.1" fill="#7bb98c"/><circle cx="1340.9" cy="1324.2" r="10.5" fill="#7bb98c"/><circle cx="1356.0" cy="1345.1" r="6.5" fill="#7bb98c"/><circle cx="1336.4" cy="1366.1" r="7.9" fill="#7bb98c"/><circle cx="1357.9" cy="1368.7" r="4.6" fill="#7bb98c"/><circle cx="1376.3" cy="1303.3" r="10.5" fill="#7bb98c"/><circle cx="1363.2" cy="1321.6" r="7.9" fill="#7bb98c"/><circle cx="1392.0" cy="1334.7" r="5.9" fill="#7bb98c"/><circle cx="1382.1" cy="1355.0" r="10.5" fill="#7bb98c"/><circle cx="1371.0" cy="1374.6" r="5.2" fill="#7bb98c"/><circle cx="1398.5" cy="1376.5" r="10.5" fill="#7bb98c"/><circle cx="1376.3" cy="1392.9" r="7.9" fill="#7bb98c"/><circle cx="1357.9" cy="1399.4" r="6.5" fill="#7bb98c"/><circle cx="1307.6" cy="1389.0" r="10.5" fill="#7bb98c"/><circle cx="1303.0" cy="1364.8" r="5.2" fill="#7bb98c"/><circle cx="1283.4" cy="1383.7" r="5.9" fill="#7bb98c"/><circle cx="1291.6" cy="1374.6" r="4.6" fill="#7bb98c"/><circle cx="1287.3" cy="1410.6" r="10.5" fill="#7bb98c"/><circle cx="1269.4" cy="1257.5" r="4.6" fill="#3d6868"/><circle cx="1282.7" cy="1273.2" r="10.5" fill="#3d6868"/><circle cx="1308.9" cy="1267.9" r="10.9" fill="#3d6868"/><circle cx="1326.1" cy="1257.1" r="5.2" fill="#3d6868"/><circle cx="1340.9" cy="1264.0" r="4.6" fill="#3d6868"/><circle cx="1329.4" cy="1273.2" r="4.6" fill="#3d6868"/><circle cx="1356.2" cy="1272.1" r="4.6" fill="#3d6868"/><circle cx="1371.0" cy="1282.1" r="10.9" fill="#3d6868"/><circle cx="1344.2" cy="1287.6" r="10.5" fill="#3d6868"/><circle cx="1321.3" cy="1283.6" r="5.9" fill="#3d6868"/><circle cx="1297.8" cy="1294.8" r="10.5" fill="#3d6868"/><circle cx="1256.5" cy="1286.0" r="4.6" fill="#3d6868"/><circle cx="1271.3" cy="1291.9" r="5.2" fill="#3d6868"/><circle cx="1250.7" cy="1302.0" r="8.5" fill="#3d6868"/><circle cx="1276.6" cy="1310.1" r="8.5" fill="#3d6868"/><circle cx="1259.8" cy="1316.4" r="5.9" fill="#3d6868"/><circle cx="1325.0" cy="1307.2" r="10.9" fill="#3d6868"/><circle cx="1361.2" cy="1308.5" r="10.9" fill="#3d6868"/><circle cx="1386.7" cy="1320.7" r="10.9" fill="#3d6868"/><circle cx="1340.9" cy="1329.4" r="7.9" fill="#3d6868"/><circle cx="1313.7" cy="1326.8" r="5.9" fill="#3d6868"/><circle cx="1291.2" cy="1336.6" r="7.9" fill="#3d6868"/><circle cx="1271.6" cy="1329.4" r="5.2" fill="#3d6868"/><circle cx="1365.1" cy="1337.9" r="7.9" fill="#3d6868"/><circle cx="1403.1" cy="1341.6" r="8.1" fill="#3d6868"/><circle cx="1262.4" cy="1343.2" r="5.2" fill="#3d6868"/><circle cx="1276.8" cy="1349.7" r="4.6" fill="#3d6868"/><circle cx="1245.4" cy="1353.6" r="10.9" fill="#3d6868"/><circle cx="1265.7" cy="1358.9" r="4.6" fill="#3d6868"/><circle cx="1257.2" cy="1369.3" r="5.9" fill="#3d6868"/><circle cx="1344.2" cy="1354.3" r="10.5" fill="#3d6868"/><circle cx="1369.1" cy="1362.8" r="10.9" fill="#3d6868"/><circle cx="1389.3" cy="1358.9" r="5.9" fill="#3d6868"/><circle cx="1305.0" cy="1372.0" r="7.9" fill="#3d6868"/><circle cx="1350.1" cy="1377.2" r="8.1" fill="#3d6868"/><circle cx="1325.2" cy="1370.0" r="5.2" fill="#3d6868"/><circle cx="1334.4" cy="1383.7" r="5.2" fill="#3d6868"/><circle cx="1366.4" cy="1388.3" r="5.2" fill="#3d6868"/><circle cx="1395.2" cy="1382.4" r="8.1" fill="#3d6868"/><circle cx="1309.5" cy="1388.3" r="4.6" fill="#3d6868"/><circle cx="1260.5" cy="1392.9" r="10.5" fill="#3d6868"/><circle cx="1295.8" cy="1396.8" r="8.1" fill="#3d6868"/><circle cx="1348.8" cy="1399.4" r="10.9" fill="#3d6868"/><circle cx="1201.6" cy="1292.8" r="8.1" fill="#3d6868"/><circle cx="1340.7" cy="1262.7" r="5.6" fill="#c8df7a"/><circle cx="1277.9" cy="1273.6" r="6.3" fill="#c8df7a"/><circle cx="1308.9" cy="1290.2" r="10.9" fill="#c8df7a"/><circle cx="1359.9" cy="1287.8" r="8.1" fill="#c8df7a"/><circle cx="1243.5" cy="1309.4" r="8.1" fill="#c8df7a"/><circle cx="1299.1" cy="1322.6" r="10.9" fill="#c8df7a"/><circle cx="1346.4" cy="1319.6" r="10.9" fill="#c8df7a"/><circle cx="1376.9" cy="1330.5" r="10.9" fill="#c8df7a"/><circle cx="1208.1" cy="1328.8" r="10.9" fill="#c8df7a"/><circle cx="1446.3" cy="1336.2" r="10.9" fill="#c8df7a"/><circle cx="1289.0" cy="1351.7" r="10.9" fill="#c8df7a"/><circle cx="1324.2" cy="1354.3" r="10.9" fill="#c8df7a"/><circle cx="1351.4" cy="1354.3" r="8.1" fill="#c8df7a"/><circle cx="1427.3" cy="1354.6" r="10.9" fill="#c8df7a"/><circle cx="1238.9" cy="1369.3" r="10.9" fill="#c8df7a"/><circle cx="1323.9" cy="1381.4" r="10.9" fill="#c8df7a"/><circle cx="1370.4" cy="1381.4" r="4.6" fill="#c8df7a"/><circle cx="1280.1" cy="1396.2" r="10.9" fill="#c8df7a"/><circle cx="1312.6" cy="1169.9" r="10.9" fill="#c8df7a"/><circle cx="1345.7" cy="1191.3" r="5.7" fill="#c8df7a"/><circle cx="1397.2" cy="1147.5" r="5.7" fill="#c8df7a"/><circle cx="1481.2" cy="1148.1" r="5.7" fill="#c8df7a"/><circle cx="1310.0" cy="1237.5" r="10.9" fill="#c8df7a"/><circle cx="1363.8" cy="1253.4" r="10.9" fill="#c8df7a"/><circle cx="1376.9" cy="1223.4" r="5.7" fill="#c8df7a"/><circle cx="1415.1" cy="1202.6" r="4.8" fill="#c8df7a"/><circle cx="1452.6" cy="1246.7" r="4.8" fill="#c8df7a"/><circle cx="1406.4" cy="1267.4" r="4.8" fill="#c8df7a"/><circle cx="1408.1" cy="1298.6" r="10.9" fill="#c8df7a"/><circle cx="1448.2" cy="1291.6" r="4.8" fill="#c8df7a"/><circle cx="1515.4" cy="1297.5" r="10.9" fill="#c8df7a"/><circle cx="1563.8" cy="1205.3" r="8.3" fill="#c8df7a"/><circle cx="1488.8" cy="1218.6" r="4.8" fill="#c8df7a"/><circle cx="1554.0" cy="1108.4" r="5.7" fill="#c8df7a"/><circle cx="1563.8" cy="1316.0" r="9.8" fill="#c8df7a"/><circle cx="1510.7" cy="1351.9" r="10.8" fill="#c8df7a"/><circle cx="1475.2" cy="1375.6" r="10.8" fill="#c8df7a"/><circle cx="1452.4" cy="1381.1" r="8.4" fill="#c8df7a"/><circle cx="1580.7" cy="1343.2" r="8.4" fill="#c8df7a"/><circle cx="1621.5" cy="1303.7" r="9.6" fill="#c8df7a"/><circle cx="1638.3" cy="1323.6" r="10.8" fill="#7bb98c"/><circle cx="1660.4" cy="1319.5" r="8.4" fill="#c8df7a"/><circle cx="1691.8" cy="1288.1" r="10.8" fill="#c8df7a"/><circle cx="1711.0" cy="1296.7" r="10.8" fill="#7bb98c"/><circle cx="1711.0" cy="1327.9" r="8.4" fill="#c8df7a"/><circle cx="1878.6" cy="1270.1" r="10.8" fill="#7bb98c"/><circle cx="1936.4" cy="1279.9" r="8.4" fill="#c8df7a"/><circle cx="1984.5" cy="1217.9" r="4.5" fill="#7bb98c"/><circle cx="2029.7" cy="1225.8" r="11.2" fill="#7bb98c"/><circle cx="2095.1" cy="1240.7" r="11.2" fill="#7bb98c"/><circle cx="2020.5" cy="1257.6" r="5.0" fill="#7bb98c"/><circle cx="2134.1" cy="1207.2" r="11.2" fill="#7bb98c"/><circle cx="2166.4" cy="1204.7" r="8.5" fill="#7bb98c"/><circle cx="2207.0" cy="1219.1" r="8.5" fill="#7bb98c"/><circle cx="2269.6" cy="1236.3" r="8.5" fill="#7bb98c"/><circle cx="2324.3" cy="1217.9" r="8.5" fill="#7bb98c"/><circle cx="2392.2" cy="1223.8" r="11.2" fill="#7bb98c"/><circle cx="2464.2" cy="1238.2" r="11.2" fill="#7bb98c"/><circle cx="2234.1" cy="1265.1" r="5.0" fill="#7bb98c"/><circle cx="2521.9" cy="1266.1" r="11.2" fill="#7bb98c"/><circle cx="2076.9" cy="1286.0" r="11.2" fill="#7bb98c"/><circle cx="2145.8" cy="1288.0" r="11.2" fill="#7bb98c"/><circle cx="2186.3" cy="1284.2" r="11.2" fill="#c8df7a"/><circle cx="2186.3" cy="1306.6" r="11.2" fill="#7bb98c"/><circle cx="2231.1" cy="1321.5" r="11.2" fill="#c8df7a"/><circle cx="2283.3" cy="1327.7" r="11.2" fill="#c8df7a"/><circle cx="2303.2" cy="1299.1" r="8.5" fill="#7bb98c"/><circle cx="2339.9" cy="1343.9" r="11.2" fill="#c8df7a"/><circle cx="2370.3" cy="1277.3" r="11.2" fill="#7bb98c"/><circle cx="2363.3" cy="1312.8" r="11.2" fill="#7bb98c"/><circle cx="2413.8" cy="1340.7" r="11.2" fill="#c8df7a"/><circle cx="2433.4" cy="1279.8" r="8.5" fill="#7bb98c"/><circle cx="2455.5" cy="1332.7" r="11.2" fill="#c8df7a"/><circle cx="2489.6" cy="1304.1" r="11.2" fill="#c8df7a"/><circle cx="2001.8" cy="1059.4" r="5.5" fill="#7bb98c"/><circle cx="1984.5" cy="1070.3" r="10.9" fill="#7bb98c"/><circle cx="2005.2" cy="1075.2" r="4.7" fill="#7bb98c"/><circle cx="1996.2" cy="1085.5" r="6.1" fill="#7bb98c"/><circle cx="2020.7" cy="1089.6" r="10.9" fill="#7bb98c"/><circle cx="2031.9" cy="1074.1" r="4.7" fill="#7bb98c"/><circle cx="2050.0" cy="1065.9" r="8.2" fill="#7bb98c"/><circle cx="2067.9" cy="1075.2" r="10.9" fill="#7bb98c"/><circle cx="2043.9" cy="1085.1" r="5.5" fill="#7bb98c"/><circle cx="2087.4" cy="1060.3" r="4.7" fill="#7bb98c"/><circle cx="2102.4" cy="1080.0" r="10.9" fill="#7bb98c"/><circle cx="2126.9" cy="1087.8" r="4.7" fill="#7bb98c"/><circle cx="2156.8" cy="1060.5" r="10.9" fill="#7bb98c"/><circle cx="2145.7" cy="1084.3" r="10.9" fill="#7bb98c"/><circle cx="2173.8" cy="1084.9" r="10.9" fill="#7bb98c"/><circle cx="2193.7" cy="1075.2" r="4.7" fill="#7bb98c"/><circle cx="2000.0" cy="1108.9" r="10.9" fill="#7bb98c"/><circle cx="2024.8" cy="1113.6" r="6.1" fill="#7bb98c"/><circle cx="2042.4" cy="1107.1" r="8.2" fill="#7bb98c"/><circle cx="2054.4" cy="1101.5" r="5.5" fill="#7bb98c"/><circle cx="2066.1" cy="1098.6" r="10.9" fill="#7bb98c"/><circle cx="2087.4" cy="1096.0" r="5.5" fill="#7bb98c"/><circle cx="2086.6" cy="1112.7" r="8.2" fill="#7bb98c"/><circle cx="2113.5" cy="1103.0" r="8.2" fill="#7bb98c"/><circle cx="2131.9" cy="1104.2" r="5.5" fill="#7bb98c"/><circle cx="2146.5" cy="1105.7" r="4.7" fill="#7bb98c"/><circle cx="2160.3" cy="1104.5" r="6.1" fill="#7bb98c"/><circle cx="2183.0" cy="1111.8" r="10.9" fill="#7bb98c"/><circle cx="2058.2" cy="1118.2" r="5.5" fill="#7bb98c"/><circle cx="2073.0" cy="1125.3" r="5.5" fill="#7bb98c"/><circle cx="2061.5" cy="1134.0" r="4.7" fill="#7bb98c"/><circle cx="2088.4" cy="1132.9" r="4.7" fill="#7bb98c"/><circle cx="2040.9" cy="1129.4" r="10.9" fill="#7bb98c"/><circle cx="2014.5" cy="1134.0" r="10.9" fill="#7bb98c"/><circle cx="1989.4" cy="1131.7" r="10.9" fill="#7bb98c"/><circle cx="2117.9" cy="1127.6" r="10.9" fill="#7bb98c"/><circle cx="2137.8" cy="1119.1" r="5.5" fill="#7bb98c"/><circle cx="2157.6" cy="1123.7" r="10.9" fill="#7bb98c"/><circle cx="2052.7" cy="1144.6" r="6.1" fill="#7bb98c"/><circle cx="2077.1" cy="1148.9" r="10.9" fill="#7bb98c"/><circle cx="2102.4" cy="1145.2" r="8.2" fill="#7bb98c"/><circle cx="2031.3" cy="1155.7" r="10.9" fill="#7bb98c"/><circle cx="2008.1" cy="1162.7" r="6.1" fill="#7bb98c"/><circle cx="1980.1" cy="1158.0" r="10.9" fill="#7bb98c"/><circle cx="2056.8" cy="1168.0" r="10.9" fill="#7bb98c"/><circle cx="2099.1" cy="1168.6" r="8.2" fill="#7bb98c"/><circle cx="2139.7" cy="1154.5" r="8.2" fill="#7bb98c"/><circle cx="2157.9" cy="1146.1" r="6.1" fill="#7bb98c"/><circle cx="2179.6" cy="1149.2" r="10.9" fill="#7bb98c"/><circle cx="2119.0" cy="1182.9" r="6.1" fill="#7bb98c"/><circle cx="2143.3" cy="1179.7" r="6.1" fill="#7bb98c"/><circle cx="2179.6" cy="1175.9" r="6.1" fill="#7bb98c"/><circle cx="1990.9" cy="1190.8" r="10.9" fill="#7bb98c"/><circle cx="2025.4" cy="1189.0" r="10.9" fill="#7bb98c"/><circle cx="2067.3" cy="1196.1" r="10.9" fill="#7bb98c"/><circle cx="2217.7" cy="1064.2" r="10.9" fill="#7bb98c"/><circle cx="2206.9" cy="1088.2" r="8.2" fill="#7bb98c"/><circle cx="2234.2" cy="1095.4" r="10.9" fill="#7bb98c"/><circle cx="2244.9" cy="1074.9" r="6.1" fill="#7bb98c"/><circle cx="2261.9" cy="1068.5" r="8.2" fill="#7bb98c"/><circle cx="2260.7" cy="1090.7" r="10.9" fill="#7bb98c"/><circle cx="2278.1" cy="1079.9" r="5.5" fill="#7bb98c"/><circle cx="2292.9" cy="1086.4" r="5.5" fill="#7bb98c"/><circle cx="2295.0" cy="1065.2" r="5.5" fill="#7bb98c"/><circle cx="2281.3" cy="1095.4" r="4.7" fill="#7bb98c"/><circle cx="2313.2" cy="1076.3" r="8.2" fill="#7bb98c"/><circle cx="2333.9" cy="1059.1" r="5.5" fill="#7bb98c"/><circle cx="2337.1" cy="1079.9" r="10.9" fill="#7bb98c"/><circle cx="2308.1" cy="1094.2" r="4.7" fill="#7bb98c"/><circle cx="2322.8" cy="1104.8" r="10.9" fill="#7bb98c"/><circle cx="2354.9" cy="1100.1" r="5.5" fill="#7bb98c"/><circle cx="2343.5" cy="1109.2" r="4.7" fill="#7bb98c"/><circle cx="2370.1" cy="1108.1" r="4.7" fill="#7bb98c"/><circle cx="2208.4" cy="1108.5" r="4.7" fill="#7bb98c"/><circle cx="2223.3" cy="1114.4" r="5.5" fill="#7bb98c"/><circle cx="2251.0" cy="1117.1" r="10.9" fill="#7bb98c"/><circle cx="2272.4" cy="1106.2" r="6.1" fill="#7bb98c"/><circle cx="2297.0" cy="1110.0" r="10.9" fill="#7bb98c"/><circle cx="2201.9" cy="1124.9" r="8.2" fill="#7bb98c"/><circle cx="2228.6" cy="1132.6" r="8.2" fill="#7bb98c"/><circle cx="2269.5" cy="1127.6" r="6.1" fill="#7bb98c"/><circle cx="2313.2" cy="1131.1" r="10.9" fill="#7bb98c"/><circle cx="2334.5" cy="1120.0" r="6.1" fill="#7bb98c"/><circle cx="2359.0" cy="1123.7" r="10.9" fill="#7bb98c"/><circle cx="2211.4" cy="1139.1" r="6.1" fill="#7bb98c"/><circle cx="2223.3" cy="1151.9" r="5.5" fill="#7bb98c"/><circle cx="2243.0" cy="1160.0" r="8.2" fill="#7bb98c"/><circle cx="2260.7" cy="1151.0" r="5.5" fill="#7bb98c"/><circle cx="2292.9" cy="1150.4" r="8.2" fill="#7bb98c"/><circle cx="2317.5" cy="1160.4" r="8.2" fill="#7bb98c"/><circle cx="2338.6" cy="1143.4" r="10.9" fill="#7bb98c"/><circle cx="2354.9" cy="1164.2" r="8.2" fill="#7bb98c"/><circle cx="2214.5" cy="1165.6" r="5.5" fill="#7bb98c"/><circle cx="2263.1" cy="1174.1" r="6.1" fill="#7bb98c"/><circle cx="2294.3" cy="1183.2" r="8.2" fill="#7bb98c"/><circle cx="2234.8" cy="1192.3" r="10.9" fill="#7bb98c"/><circle cx="2269.5" cy="1197.8" r="6.1" fill="#7bb98c"/><circle cx="241.0" cy="1304.4" r="11.0" fill="#c8df7a"/><circle cx="766.7" cy="1397.3" r="10.8" fill="#c8df7a"/><circle cx="762.8" cy="1437.8" r="10.8" fill="#c8df7a"/><circle cx="889.3" cy="1378.5" r="11.0" fill="#c8df7a"/><circle cx="835.0" cy="1412.8" r="11.0" fill="#c8df7a"/><circle cx="885.0" cy="1439.3" r="11.0" fill="#c8df7a"/><circle cx="1069.1" cy="1392.0" r="11.0" fill="#c8df7a"/><circle cx="1127.0" cy="1401.6" r="11.0" fill="#c8df7a"/><circle cx="1162.5" cy="1355.7" r="11.0" fill="#c8df7a"/><circle cx="1188.2" cy="1372.2" r="11.0" fill="#c8df7a"/><circle cx="955.4" cy="910.1" r="5.5" fill="#c8df7a"/><circle cx="1137.5" cy="863.6" r="4.7" fill="#c8df7a"/><circle cx="1044.9" cy="971.2" r="5.5" fill="#c8df7a"/><circle cx="1132.4" cy="1035.8" r="5.5" fill="#c8df7a"/><circle cx="1276.3" cy="1044.1" r="6.3" fill="#c8df7a"/><circle cx="1154.1" cy="1108.0" r="8.3" fill="#c8df7a"/><circle cx="919.5" cy="1135.6" r="4.7" fill="#c8df7a"/><circle cx="1009.8" cy="1141.9" r="6.3" fill="#c8df7a"/><circle cx="1212.8" cy="1153.3" r="6.3" fill="#c8df7a"/><circle cx="1044.9" cy="1178.1" r="4.7" fill="#c8df7a"/><circle cx="923.9" cy="1232.9" r="4.7" fill="#c8df7a"/><circle cx="1044.9" cy="1247.1" r="6.3" fill="#c8df7a"/><circle cx="1246.7" cy="1190.7" r="11.0" fill="#c8df7a"/><circle cx="1173.4" cy="1218.7" r="5.5" fill="#c8df7a"/><circle cx="1288.5" cy="1213.2" r="5.5" fill="#c8df7a"/><circle cx="1240.0" cy="1244.0" r="6.3" fill="#c8df7a"/><circle cx="1091.0" cy="1314.0" r="11.0" fill="#c8df7a"/><circle cx="1373.1" cy="831.2" r="5.7" fill="#c8df7a"/><circle cx="1508.6" cy="938.9" r="5.7" fill="#c8df7a"/><circle cx="1668.8" cy="965.8" r="5.7" fill="#c8df7a"/><circle cx="1508.6" cy="1030.4" r="5.7" fill="#c8df7a"/><circle cx="1651.9" cy="1142.2" r="5.0" fill="#c8df7a"/><circle cx="1660.3" cy="1225.9" r="4.6" fill="#c8df7a"/><circle cx="1891.1" cy="1019.0" r="6.5" fill="#7bb98c"/><circle cx="2020.6" cy="1000.6" r="8.4" fill="#7bb98c"/><circle cx="1822.2" cy="1053.6" r="5.8" fill="#7bb98c"/><circle cx="1784.5" cy="1098.9" r="4.8" fill="#7bb98c"/><circle cx="1867.3" cy="1127.6" r="4.8" fill="#7bb98c"/><circle cx="1918.1" cy="1098.0" r="4.8" fill="#7bb98c"/><circle cx="1794.9" cy="1171.0" r="4.8" fill="#7bb98c"/><circle cx="1840.1" cy="1169.4" r="11.2" fill="#7bb98c"/><circle cx="1908.0" cy="1167.5" r="10.7" fill="#7bb98c"/><circle cx="1944.6" cy="824.9" r="11.0" fill="#7bb98c"/><circle cx="2082.6" cy="812.0" r="4.6" fill="#7bb98c"/><circle cx="2324.0" cy="825.8" r="8.5" fill="#7bb98c"/><circle cx="1908.0" cy="907.6" r="5.5" fill="#7bb98c"/><circle cx="2478.2" cy="907.6" r="4.6" fill="#7bb98c"/><circle cx="2455.9" cy="999.8" r="8.5" fill="#7bb98c"/><circle cx="2466.8" cy="1144.8" r="5.6" fill="#7bb98c"/><rect x="1956.1" y="1024.3" width="48" height="27.5" fill="rgba(185,216,165,0.5)"/><rect x="1956.1" y="1051.8" width="27.9" height="139.9" fill="rgba(185,216,165,0.5)"/><rect x="2033.8" y="1022" width="86.6" height="27.8" fill="rgba(185,216,165,0.5)"/><rect x="2140.9" y="1022" width="56.5" height="27.8" fill="rgba(185,216,165,0.5)"/><rect x="2231" y="1022" width="77" height="27.8" fill="rgba(185,216,165,0.5)"/><rect x="2323.6" y="1022" width="64.7" height="27.8" fill="rgba(185,216,165,0.5)"/><rect x="2360.4" y="1049.8" width="27.9" height="141" fill="rgba(185,216,165,0.5)"/><g opacity="0.66"><path d="M753 766 C766.4 967.7 859.6 1131.4 988.2 1145.3" fill="none" stroke="#3d6868" stroke-width="15"/><polygon points="751.2,722.9 705.9,770.2 799.3,767.8" fill="#3d6868"/></g><g opacity="0.66"><path d="M1226.3 1310.8 C1172.6 1227.2 1018.0 1063.8 766 1215" fill="none" stroke="#3d6868" stroke-width="15"/><polygon points="736.3,1240 743.4,1175.8 801.7,1247.9" fill="#3d6868"/></g><path d="M1383.2 1227.2 C1447.7 1142.4 1660.0 983.3 1904 1134" fill="none" stroke="#b9daa5" stroke-width="15.5"/><polygon points="1924.5,1093.1 1936.5,1157.6 1870.9,1169" fill="#b9daa5"/><text x="229.2" y="67.6" font-family="Liberation Sans" font-size="38.5" font-weight="bold" fill="#3d6868" textLength="587.5" lengthAdjust="spacingAndGlyphs">CURRENT SEDIMENT PROCESSES</text><text x="1044.8" y="67.6" font-family="Liberation Sans" font-size="38.5" font-weight="bold" fill="#c8df7a" textLength="581" lengthAdjust="spacingAndGlyphs">HISTORIC SEDIMENT PROCESSES</text><text x="1878.2" y="67.6" font-family="Liberation Sans" font-size="38.5" font-weight="bold" fill="#7bb98c" textLength="551.6" lengthAdjust="spacingAndGlyphs">HYBRID SEDIMENT PROCESSES</text><text x="271" y="149.2" font-family="Liberation Sans" font-size="33.5" font-weight="bold" fill="#3d6868" textLength="492.8" lengthAdjust="spacingAndGlyphs">OPEN DEEP WATER PLACEMENT</text><text x="282.8" y="984.6" font-family="Liberation Sans" font-size="33.5" font-weight="bold" fill="#3d6868" textLength="464" lengthAdjust="spacingAndGlyphs">CONFINED DISPOSAL FACILITY</text><text x="1212.4" y="984.9" font-family="Liberation Sans" font-size="33.5" font-weight="bold" fill="#c8df7a" textLength="217" lengthAdjust="spacingAndGlyphs">RIVERMOUTH</text><text x="2020.8" y="984.4" font-family="Liberation Sans" font-size="33.5" font-weight="bold" fill="#7bb98c" textLength="343" lengthAdjust="spacingAndGlyphs">OPEN- CELL WETLAND</text><text transform="translate(41.2,565.6) rotate(-90)" font-family="Liberation Sans" font-size="39.5" font-weight="bold" fill="#000" textLength="191" lengthAdjust="spacingAndGlyphs">OFFSHORE</text><text transform="translate(58.6,1402.8) rotate(-90)" font-family="Liberation Sans" font-size="39.5" font-weight="bold" fill="#000" textLength="222" lengthAdjust="spacingAndGlyphs">NEARSHORE</text><text x="1054.8" y="1093.4" font-family="Liberation Sans" font-size="34" fill="#c8df7a" textLength="176" lengthAdjust="spacingAndGlyphs">Winnowing</text><text x="1054.8" y="1137.5" font-family="Liberation Sans" font-size="34" fill="#c8df7a" textLength="64" lengthAdjust="spacingAndGlyphs">Clay</text><text x="950" y="1362.8" font-family="Liberation Sans" font-size="34" fill="#c8df7a" textLength="186" lengthAdjust="spacingAndGlyphs">Littoral Drift</text><text x="950.8" y="1407.3" font-family="Liberation Sans" font-size="34" fill="#c8df7a" textLength="77" lengthAdjust="spacingAndGlyphs">Sand</text><text x="989.2" y="1624" font-family="Liberation Sans" font-size="34" fill="#c8df7a" textLength="143" lengthAdjust="spacingAndGlyphs">Wetlands</text><text x="997.9" y="1669" font-family="Liberation Sans" font-size="34" fill="#c8df7a" textLength="64" lengthAdjust="spacingAndGlyphs">Clay</text><text x="1780.6" y="977.1" font-family="Liberation Sans" font-size="34" fill="#7bb98c" textLength="176" lengthAdjust="spacingAndGlyphs">Winnowing</text><text x="1780.6" y="1021.6" font-family="Liberation Sans" font-size="34" fill="#7bb98c" textLength="64" lengthAdjust="spacingAndGlyphs">Clay</text><text x="1764" y="1240.1" font-family="Liberation Sans" font-size="34" fill="#7bb98c" textLength="187" lengthAdjust="spacingAndGlyphs">Littoral Drift</text><text x="1764.9" y="1284.6" font-family="Liberation Sans" font-size="34" fill="#7bb98c" textLength="79" lengthAdjust="spacingAndGlyphs">Sand</text></svg></body></html>
